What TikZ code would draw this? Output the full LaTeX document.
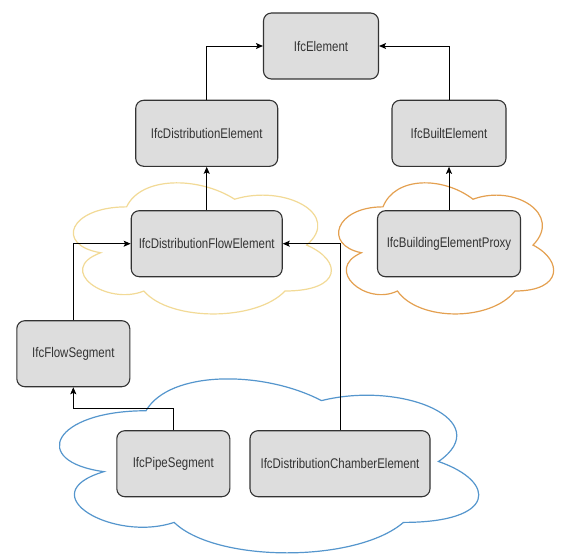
\documentclass[tikz,border=0pt]{standalone}
\usepackage{fontspec}
\setmainfont{Liberation Sans}[FakeStretch=0.82]
\usetikzlibrary{arrows.meta,positioning,calc}
\definecolor{ifcgray}{RGB}{221,221,221}
\definecolor{ifcline}{RGB}{51,51,51}
\definecolor{cloudyellow}{RGB}{242,218,150}
\definecolor{cloudorange}{RGB}{228,160,80}
\definecolor{cloudblue}{RGB}{85,150,205}
% draw.io cloud outline in a unit box (y pointing down)
\newcommand{\ifccloud}{(0.25,0.25) .. controls (0.05,0.25) and (0,0.5) .. (0.16,0.55)
  .. controls (0,0.66) and (0.18,0.9) .. (0.31,0.8)
  .. controls (0.4,1) and (0.7,1) .. (0.8,0.8)
  .. controls (1,0.8) and (1,0.6) .. (0.875,0.5)
  .. controls (1,0.3) and (0.8,0.1) .. (0.625,0.2)
  .. controls (0.5,0.05) and (0.3,0.05) .. (0.25,0.25) -- cycle}

\begin{document}
\begin{tikzpicture}[x=1pt,y=-1pt,
    ifcbox/.style={draw=ifcline,line width=1.1pt,fill=ifcgray,rounded corners=8pt,
      minimum height=66pt,inner sep=0pt,text=ifcline,font=\fontsize{14}{16}\selectfont},
    link/.style={draw=black,line width=0.9pt,-{Stealth[length=7pt,width=6pt,inset=1.5pt]}},
    cloudline/.style={line width=1.2pt,fill=white}]
      \useasboundingbox (0,0) rectangle (561,556);
      % Clouds (behind)
      \begin{scope}[shift={(54.6,168.6)},x=288pt,y=-153pt]
        \draw[cloudline,draw=cloudyellow] \ifccloud;
      \end{scope}
      \begin{scope}[shift={(323,168.6)},x=240pt,y=-153pt]
        \draw[cloudline,draw=cloudorange] \ifccloud;
      \end{scope}
      \begin{scope}[shift={(29,360)},x=468pt,y=-203pt]
        \draw[cloudline,draw=cloudblue] \ifccloud;
      \end{scope}
      % Classes
      \node[ifcbox,minimum width=115pt] (elem) at (321,46) {IfcElement};
      \node[ifcbox,minimum width=142pt] (distel) at (206.7,133.3) {IfcDistributionElement};
      \node[ifcbox,minimum width=114pt] (built) at (449,133.3) {IfcBuiltElement};
      \node[ifcbox,minimum width=151pt] (flowel) at (206.7,243.7) {IfcDistributionFlowElement};
      \node[ifcbox,minimum width=143pt] (proxy) at (449,243.7) {IfcBuildingElementProxy};
      \node[ifcbox,minimum width=113pt] (flowseg) at (73.3,353.7) {IfcFlowSegment};
      \node[ifcbox,minimum width=113pt] (pipe) at (173.3,463.7) {IfcPipeSegment};
      \node[ifcbox,minimum width=180pt] (chamber) at (340,463.7) {IfcDistributionChamberElement};
      % Inheritance
      \draw[link] (distel.north) |- (elem.west);
      \draw[link] (built.north) |- (elem.east);
      \draw[link] (flowel.north) -- (distel.south);
      \draw[link] (proxy.north) -- (built.south);
      \draw[link] (flowseg.north) |- (flowel.west);
      \draw[link] (chamber.north) |- (flowel.east);
      \draw[link] (pipe.north) |- ($(pipe.north)!0.5!(flowseg.south)$) -| (flowseg.south);
\end{tikzpicture}
\end{document}
